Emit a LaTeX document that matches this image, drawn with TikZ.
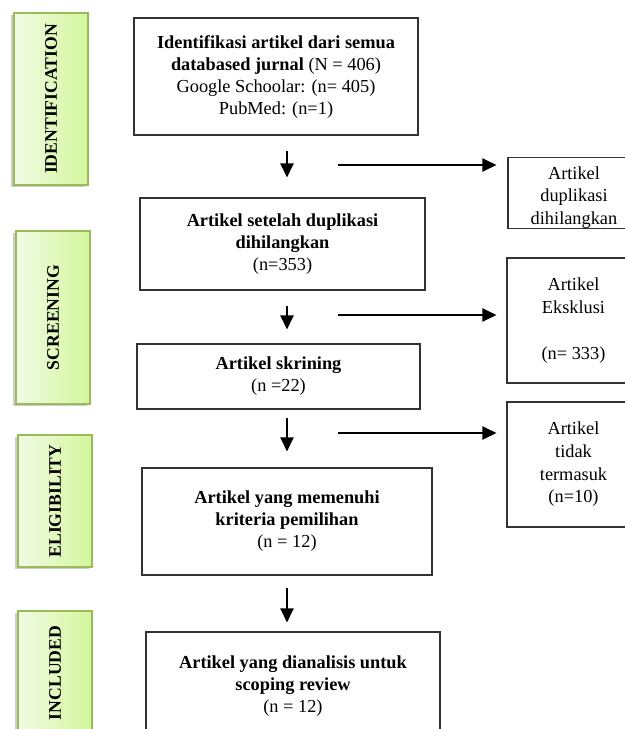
\documentclass[tikz,border=0pt]{standalone}
\usepackage{fontspec}
\setmainfont{Liberation Serif}
\usetikzlibrary{arrows.meta,positioning,shadows}

\definecolor{phasetop}{HTML}{D3F69C}
\definecolor{phasebot}{HTML}{F1FBE4}
\definecolor{phaseline}{HTML}{9BBB59}

\begin{document}
\begin{tikzpicture}[
  x=0.6pt, y=-0.6pt,
  box/.style={draw=black!80, line width=0.7pt, align=center, inner sep=2pt,
    font=\fontsize{11}{13.2}\selectfont},
  side/.style={box, font=\fontsize{11}{13.6}\selectfont},
  phase/.style={draw=phaseline, line width=1.1pt, rotate=90, minimum height=44.4pt,
    left color=phasebot, right color=phasetop, font=\fontsize{10.6}{12}\selectfont\bfseries,
    drop shadow={shadow xshift=-1.8pt, shadow yshift=-1.2pt, opacity=0.4}},
  line/.style={-{Triangle[length=8.5pt,width=8pt]}, line width=1.1pt}
]
\useasboundingbox (0,0) rectangle (625,729);
\clip (0,0) rectangle (625,729);

% phases
\node[phase, minimum width=103.2pt] (pid) at (51,99) {IDENTIFICATION};
\node[phase, minimum width=103.8pt] (pscr) at (53,317.5) {SCREENING};
\node[phase, minimum width=79.2pt] (pelig) at (55,501) {ELIGIBILITY};
\node[phase, minimum width=74.4pt] (pinc) at (55,673) {INCLUDED};

% main flow
\node[box, minimum width=170.4pt, minimum height=70.2pt] (ident) at (276,76.5)
  {\textbf{Identifikasi artikel dari semua}\\\textbf{databased jurnal} (N = 406)\\Google Schoolar: (n= 405)\\PubMed: (n=1)};
\node[box, minimum width=171pt, minimum height=55.2pt] (nodup) at (282.5,244)
  {\textbf{Artikel setelah duplikasi}\\\textbf{dihilangkan}\\(n=353)};
\node[box, minimum width=169.8pt, minimum height=39pt] (screen) at (278.5,376.5)
  {\textbf{Artikel skrining}\\(n =22)};
\node[box, minimum width=174pt, minimum height=64.2pt] (elig) at (287,521.5)
  {\textbf{Artikel yang memenuhi}\\\textbf{kriteria pemilihan}\\(n = 12)};
\node[box, minimum width=176.4pt, minimum height=64.8pt] (incl) at (293,686)
  {\textbf{Artikel yang dianalisis untuk}\\\textbf{scoping review}\\(n = 12)};

% excluded
\node[side, minimum width=79.2pt, minimum height=42pt, text height=40pt, inner ysep=0pt] (dupl) at (574,193)
  {Artikel\\duplikasi\\dihilangkan};
\node[side, minimum width=79.8pt, minimum height=75pt] (excl) at (573.5,320.5)
  {Artikel\\Eksklusi\\[14pt](n= 333)};
\node[side, minimum width=79.8pt, minimum height=75pt] (notin) at (573.5,464.5)
  {Artikel\\tidak\\termasuk\\(n=10)};

\coordinate (spine) at (287,0);
\coordinate (h1) at (338,165);
\coordinate (h2) at (338,315);
\coordinate (h3) at (338,433);

\draw[line, shorten <=9pt, shorten >=12pt] (ident.south -| spine) -- (nodup.north -| spine);
\draw[line, shorten <=9pt, shorten >=8.4pt] (nodup.south -| spine) -- (screen.north -| spine);
\draw[line, shorten <=4.8pt, shorten >=9.6pt] (screen.south -| spine) -- (elig.north -| spine);
\draw[line, shorten <=7.2pt, shorten >=5.4pt] (elig.south -| spine) -- (incl.north -| spine);

\draw[line, shorten >=6.6pt] (h1) -- (h1 -| dupl.west);
\draw[line, shorten >=6pt] (h2) -- (h2 -| excl.west);
\draw[line, shorten >=6pt] (h3) -- (h3 -| notin.west);
\end{tikzpicture}
\end{document}
